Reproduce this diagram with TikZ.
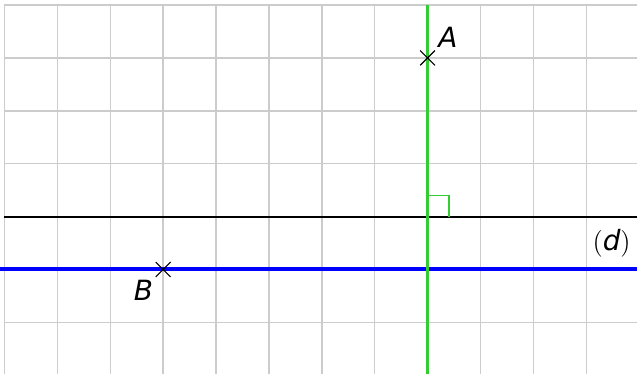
\documentclass[tikz,border=0pt]{standalone}
\usepackage{fontspec}
\newfontfamily\labelfont{DejaVu Sans}

\definecolor{perpgreen}{RGB}{51,204,51}
\tikzset{
	pt/.style={line width=0.6pt,black},
	lbl/.style={font=\labelfont\itshape\fontsize{15}{18}\selectfont,inner sep=1pt}
}

\begin{document}
\begin{tikzpicture}
	\useasboundingbox (-0.085,0.03) rectangle (11.96,7.095);
	\clip (-0.085,0.03) rectangle (11.96,7.095);
	\draw [gray!40,line width=0.8pt] (0,0) grid (12,7);
	
	\coordinate (A) at (8,6);
	\coordinate (B) at (3,2);
	\coordinate (H) at (8,3);
	\coordinate (d1) at (0,3);
	\coordinate (d2) at (12,3);
	\coordinate (p1) at (-0.1,2);
	\coordinate (p2) at (12,2);
	\coordinate (g1) at (8,7);
	\coordinate (g2) at (8,0);
	
	\draw [black,line width=1.1pt] (d1) -- (d2);
	\draw [blue,line width=2.2pt] (p1) -- (p2);
	\draw [perpgreen,line width=2pt] (g1) -- (g2);
	\draw [perpgreen,line width=0.9pt] (H) ++(0,0.4) -| ++(0.4,-0.4);
	
	\draw [pt] (A) ++(-0.14,-0.14) -- ++(0.28,0.28) (A) ++(-0.14,0.14) -- ++(0.28,-0.28);
	\draw [pt] (B) ++(-0.14,-0.14) -- ++(0.28,0.28) (B) ++(-0.14,0.14) -- ++(0.28,-0.28);
	
	\node [lbl,anchor=south west] (LA) at (8.16,6.15) {A};
	\node [lbl,anchor=north east] (LB) at (2.85,1.84) {B};
	\node [lbl] (Ld) at (11.48,2.5) {$($\textit{d}$)$};
\end{tikzpicture}
\end{document}
